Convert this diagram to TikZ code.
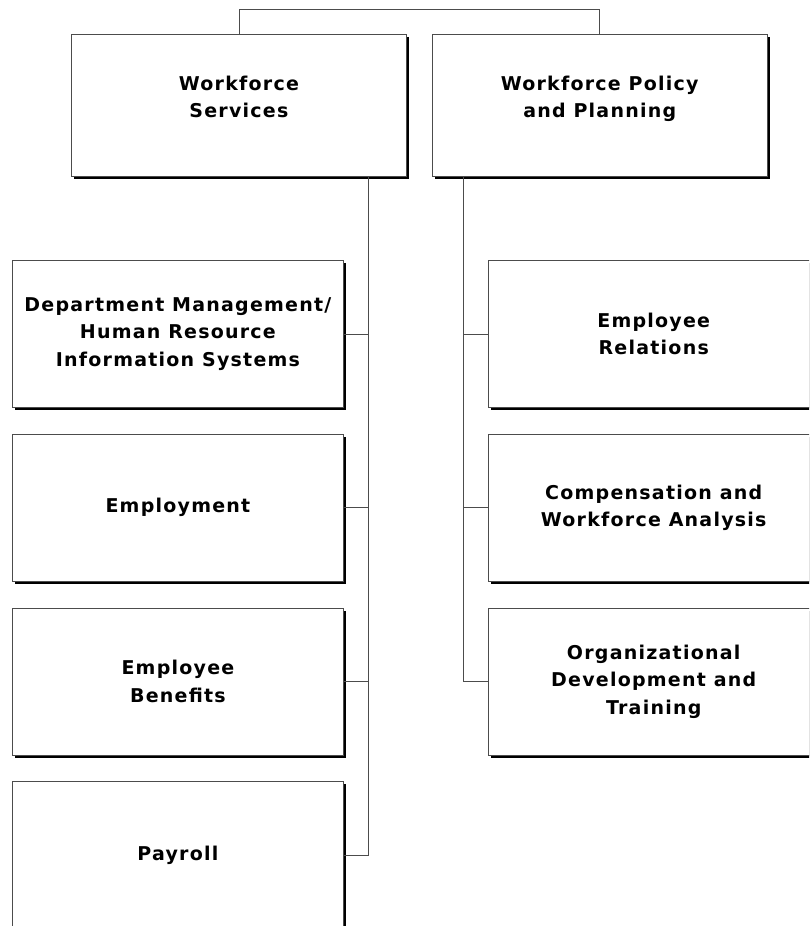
\documentclass[tikz,border=0pt]{standalone}
\usepackage{fontspec}
\setmainfont{DejaVu Sans}
\newfontfamily\orgfont[LetterSpace=6.5]{DejaVu Sans}
\usetikzlibrary{positioning,shadows}
\tikzset{unit/.style={draw=black!70,line width=0.8pt,fill=white,
  minimum width=331pt,minimum height=147pt,inner sep=0pt,align=center,
  font=\orgfont\bfseries\fontsize{19}{27.5}\selectfont,
  drop shadow={shadow xshift=2.5pt,shadow yshift=-2.5pt,fill=black,opacity=1}}}
\tikzset{head/.style={unit,minimum width=335pt,minimum height=142pt}}
\tikzset{link/.style={draw=black!70,line width=0.8pt}}

\begin{document}
\begin{tikzpicture}[x=1pt,y=-1pt]
\clip (0,0) rectangle (809,926);

% the two divisions
\node[head,anchor=north west] (ws) at (71,34) {Workforce\\Services\\[-10pt]\mbox{}};
\node[head] (wpp) [right=25pt of ws] {Workforce Policy\\and Planning\\[-10pt]\mbox{}};

% units under Workforce Services
\node[unit,anchor=north west] (dm) at (12,260) {Department Management/\\Human Resource\\Information Systems};
\node[unit] (emp) [below=26pt of dm] {Employment};
\node[unit] (eb) [below=26pt of emp] {Employee\\Benefits};
\node[unit] (pay) [below=26pt of eb] {Payroll};

% units under Workforce Policy and Planning
\node[unit] (er) [right=144pt of dm] {Employee\\Relations};
\node[unit] (cwa) [below=26pt of er] {Compensation and\\Workforce Analysis};
\node[unit] (odt) [below=26pt of cwa] {Organizational\\Development and\\Training};

\coordinate (lt) at ([xshift=-38pt]ws.south east);
\coordinate (rt) at ([xshift=32pt]wpp.south west);

\draw[link] (ws.north) -- ++(0,-25) -| (wpp.north);
\draw[link] (lt) |- (pay.east);
\draw[link] (rt) |- (odt.west);
\foreach \n in {dm,emp,eb} \draw[link] (\n.east) -- (\n.east -| lt);
\foreach \n in {er,cwa} \draw[link] (\n.west) -- (\n.west -| rt);
\end{tikzpicture}
\end{document}
